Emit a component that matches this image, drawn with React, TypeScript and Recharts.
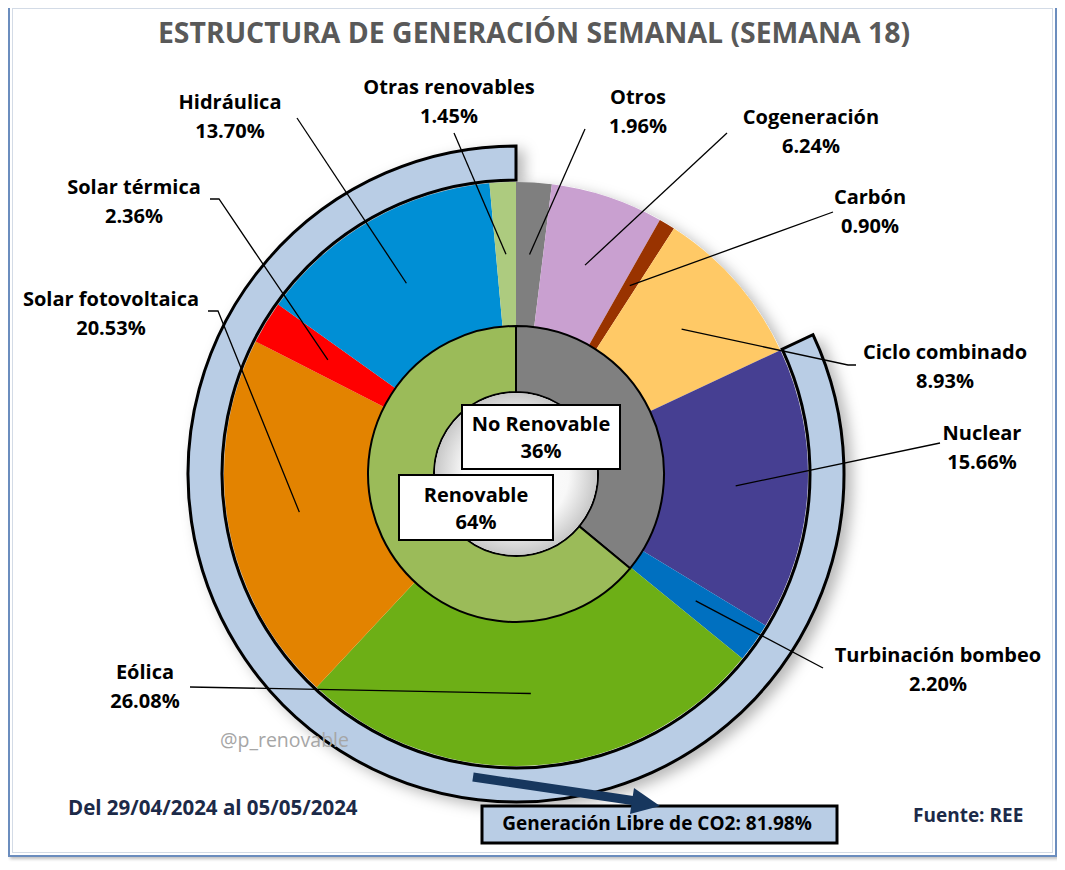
import React from "react";
import { PieChart, Pie, Cell } from "recharts";

// Outer ring: generation by source, clockwise from 12 o'clock
const sources = [
  "Otros",
  "Cogeneración",
  "Carbón",
  "Ciclo combinado",
  "Nuclear",
  "Turbinación bombeo",
  "Eólica",
  "Solar fotovoltaica",
  "Solar térmica",
  "Hidráulica",
  "Otras renovables",
];
const shares = [1.96, 6.24, 0.9, 8.93, 15.66, 2.2, 26.08, 20.53, 2.36, 13.7, 1.45];
const sourceColors = [
  "#7F7F7F",
  "#C9A0D0",
  "#993300",
  "#FFC966",
  "#463F92",
  "#0070C0",
  "#6DAF16",
  "#E38300",
  "#FF0000",
  "#008FD5",
  "#ADCB7F",
];

// Inner ring: renewable vs non renewable
const groups = ["No Renovable", "Renovable"];
const groupShares = [36, 64];
const groupColors = ["#808080", "#9BBB59"];

// CO2-free band
const co2FreeLabel = "Generación Libre de CO2";
const co2Free = 81.98;

const title = "ESTRUCTURA DE GENERACIÓN SEMANAL (SEMANA 18)";
const period = "Del 29/04/2024 al 05/05/2024";
const source = "Fuente: REE";
const watermark = "@p_renovable";

const FONT = "'Open Sans', sans-serif";

// where each source label sits (text centre of first line) and where its leader line ends
const labelLayout = [
  { tx: 638, ty: 97, ex: 585, ey: 129 },
  { tx: 811, ty: 117, ex: 727, ey: 133 },
  { tx: 870, ty: 197, ex: 833, ey: 212 },
  { tx: 945, ty: 352, ex: 848, ey: 365, hx: 856 },
  { tx: 982, ty: 433, ex: 940, ey: 443 },
  { tx: 938, ty: 655, ex: 823, ey: 668 },
  { tx: 145, ty: 672, ex: 190, ey: 687 },
  { tx: 111, ty: 299, ex: 218, ey: 311, hx: 208 },
  { tx: 134, ty: 187, ex: 219, ey: 199, hx: 210 },
  { tx: 230, ty: 102, ex: 297, ey: 118 },
  { tx: 449, ty: 87, ex: 454, ey: 133 },
];

const CX = 516;
const CY = 474;

const outerData = sources.map((name, i) => ({ name, value: shares[i] }));
const innerData = groups.map((name, i) => ({ name, value: groupShares[i] }));
const bandData = [
  { name: "Resto", value: +(100 - co2Free).toFixed(2) },
  { name: co2FreeLabel, value: co2Free },
];

const RAD = Math.PI / 180;

const renderSourceLabel = (props: any) => {
  const { cx, cy, midAngle, innerRadius, outerRadius, index } = props;
  const r = (innerRadius + outerRadius) / 2;
  const ax = cx + r * Math.cos(-midAngle * RAD);
  const ay = cy + r * Math.sin(-midAngle * RAD);
  const l = labelLayout[index];
  return (
    <g key={`lbl-${index}`}>
      <polyline
        points={`${ax},${ay} ${l.ex},${l.ey}${l.hx ? ` ${l.hx},${l.ey}` : ""}`}
        fill="none"
        stroke="#000"
        strokeWidth={1.3}
      />
      <text
        x={l.tx}
        y={l.ty + 7}
        textAnchor="middle"
        fontFamily={FONT}
        fontWeight={700}
        fontSize={20}
        fill="#000"
      >
        {sources[index]}
        <tspan x={l.tx} dy={29}>
          {shares[index].toFixed(2)}%
        </tspan>
      </text>
    </g>
  );
};

export default function App() {
  return (
    <div
      style={{
        position: "relative",
        width: 1065,
        height: 870,
        margin: -8,
        background: "#fff",
        overflow: "hidden",
      }}
    >
      <div
        style={{
          position: "absolute",
          left: 8,
          top: 4,
          width: 1049,
          height: 853,
          boxSizing: "border-box",
          border: "2px solid #6B8DBE",
          boxShadow:
            "inset 0 0 0 2px #fff, inset 0 0 0 3px #D3DBE6, 2px 2px 3px rgba(0,0,0,0.25)",
        }}
      />

      <div style={{ position: "absolute", left: 0, top: 0 }}>
        <PieChart width={1065} height={870} margin={{ top: 0, right: 0, bottom: 0, left: 0 }}>
          <defs>
            <radialGradient id="holeGrad" cx="50%" cy="50%" r="50%">
              <stop offset="0%" stopColor="#FFFFFF" />
              <stop offset="65%" stopColor="#F8F8F8" />
              <stop offset="100%" stopColor="#C8C8C8" />
            </radialGradient>
            <filter id="softShadow" x="-20%" y="-20%" width="140%" height="140%">
              <feDropShadow dx="7" dy="5" stdDeviation="7" floodColor="#000" floodOpacity="0.28" />
            </filter>
          </defs>
          <Pie
            data={[{ name: "base", value: 1 }]}
            dataKey="value"
            cx={CX}
            cy={CY}
            innerRadius={0}
            outerRadius={292}
            startAngle={90}
            endAngle={-270}
            stroke="none"
            isAnimationActive={false}
          >
            <Cell fill="#fff" filter="url(#softShadow)" />
          </Pie>
          <Pie
            data={bandData}
            dataKey="value"
            cx={CX}
            cy={CY}
            innerRadius={294}
            outerRadius={328}
            startAngle={90}
            endAngle={-270}
            isAnimationActive={false}
          >
            <Cell fill="none" stroke="none" />
            <Cell fill="#B9CDE5" stroke="#000" strokeWidth={3} filter="url(#softShadow)" />
          </Pie>
          <Pie
            data={outerData}
            dataKey="value"
            cx={CX}
            cy={CY}
            innerRadius={148}
            outerRadius={292}
            startAngle={90}
            endAngle={-270}
            stroke="none"
            label={renderSourceLabel}
            labelLine={false}
            isAnimationActive={false}
          >
            {outerData.map((d, i) => (
              <Cell key={d.name} fill={sourceColors[i]} />
            ))}
          </Pie>
          <Pie
            data={innerData}
            dataKey="value"
            cx={CX}
            cy={CY}
            innerRadius={82}
            outerRadius={148}
            startAngle={90}
            endAngle={-270}
            stroke="#000"
            strokeWidth={2}
            isAnimationActive={false}
          >
            {innerData.map((d, i) => (
              <Cell key={d.name} fill={groupColors[i]} />
            ))}
          </Pie>
          <Pie
            data={[{ name: "hole", value: 1 }]}
            dataKey="value"
            cx={CX}
            cy={CY}
            innerRadius={0}
            outerRadius={81}
            startAngle={90}
            endAngle={-270}
            stroke="none"
            isAnimationActive={false}
          >
            <Cell fill="url(#holeGrad)" />
          </Pie>
        </PieChart>
      </div>

      <svg
        width={1065}
        height={870}
        style={{ position: "absolute", left: 0, top: 0, pointerEvents: "none" }}
        fontFamily={FONT}
      >
        <text x={534} y={43} textAnchor="middle" fontWeight={700} fontSize={28.4} fill="#595959">
          {title}
        </text>

        <rect x={462} y={405} width={158} height={64} fill="#fff" stroke="#000" strokeWidth={2} />
        <text x={541} y={431} textAnchor="middle" fontWeight={700} fontSize={20} fill="#000">
          {groups[0]}
          <tspan x={541} dy={27}>
            {groupShares[0]}%
          </tspan>
        </text>
        <rect x={399} y={475} width={154} height={65} fill="#fff" stroke="#000" strokeWidth={2} />
        <text x={476} y={502} textAnchor="middle" fontWeight={700} fontSize={20} fill="#000">
          {groups[1]}
          <tspan x={476} dy={27}>
            {groupShares[1]}%
          </tspan>
        </text>

        <text x={220} y={747} fontSize={19.5} fill="#A6A6A6">
          {watermark}
        </text>

        <rect x={482} y={806} width={355} height={37} fill="#B9CDE5" stroke="#000" strokeWidth={3} />
        <text x={657} y={830} textAnchor="middle" fontWeight={700} fontSize={19} fill="#000">
          {co2FreeLabel}: {co2Free.toFixed(2)}%
        </text>

        <line x1={473} y1={777} x2={636} y2={801} stroke="#17375E" strokeWidth={9} />
        <polygon points="660,806 630,814 634,788" fill="#17375E" />

        <text x={68} y={815} fontWeight={700} fontSize={20.5} fill="#1C2A48">
          {period}
        </text>
        <text x={913} y={822} fontWeight={700} fontSize={19} fill="#1C2A48">
          {source}
        </text>
      </svg>
    </div>
  );
}
